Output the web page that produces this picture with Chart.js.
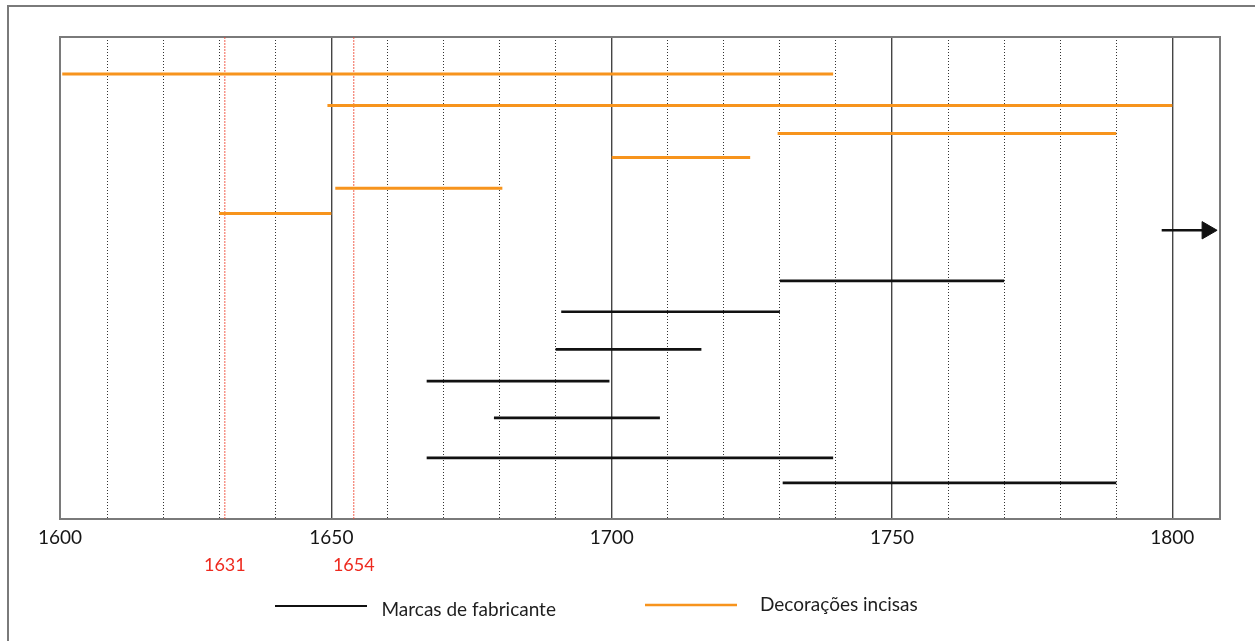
<!DOCTYPE html>
<html>
<head>
<meta charset="utf-8">
<script src="https://cdn.jsdelivr.net/npm/chart.js@4.4.1/dist/chart.umd.min.js"></script>
<style>
  html, body { margin: 0; padding: 0; background: #fff; overflow: hidden; }
  #wrap { position: relative; width: 1255px; height: 641px; overflow: hidden; }
  #frame { position: absolute; left: 7px; top: 5px; width: 1300px; height: 700px;
           border-top: 2px solid #7a7a7a; border-left: 2px solid #7a7a7a; pointer-events: none; }
  canvas { position: absolute; left: 0; top: 0; }
</style>
</head>
<body>
<div id="wrap">
  <canvas id="c" width="1255" height="641"></canvas>
  <div id="frame"></div>
</div>
<script>
// ---------- data (years) ----------
const decoLabel = 'Decorações incisas';
const decoStart = [1602, 1649.3, 1729.6, 1700, 1650.7, 1630];
const decoEnd   = [1739.5, 1800, 1790, 1724.7, 1680.5, 1650];
const decoRow   = [7.7, 14.2, 20.0, 25.0, 31.4, 36.6];

const marcLabel = 'Marcas de fabricante';
const marcStart = [1730, 1691, 1690, 1667, 1679, 1667, 1730.5];
const marcEnd   = [1770, 1730, 1716, 1699.6, 1708.6, 1739.5, 1790];
const marcRow   = [50.6, 57.0, 64.8, 71.4, 79.0, 87.3, 92.5];

const arrowYears = [1798.1, 1806.2];
const arrowRow = 40.1;

const markYears = [1631, 1654];            // red reference years

const xMin = 1601.6, xMax = 1808.5;        // axis extent as drawn
const gridYears = [1610,1620,1630,1640,1650,1660,1670,1680,1690,1700,1710,1720,1730,1740,1750,1760,1770,1780,1790,1800];
const firstLabel = '1600';

// ---------- colours ----------
const ORANGE = '#f7941d';
const BLACK = '#111111';
const RED_LINE = 'rgba(238,70,50,0.85)';
const RED_TEXT = '#ee2a1f';
const FONT = 'Lato, "Open Sans", sans-serif';

// ---------- datasets ----------
function segment(label, s, e, r, color, width) {
  return {
    type: 'line', label, data: [{x: s, y: r}, {x: e, y: r}],
    borderColor: color, backgroundColor: color, borderWidth: width,
    pointRadius: 0, pointHoverRadius: 0, fill: false, borderCapStyle: 'butt', order: 1
  };
}
const datasets = [];
markYears.forEach(y => datasets.push({
  type: 'line', label: String(y), data: [{x: y, y: 0}, {x: y, y: 100}],
  borderColor: RED_LINE, borderWidth: 1, borderDash: [2, 1], pointRadius: 0, order: 10
}));
decoStart.forEach((s, i) => datasets.push(segment(decoLabel, s, decoEnd[i], decoRow[i], ORANGE, 3)));
marcStart.forEach((s, i) => datasets.push(segment(marcLabel, s, marcEnd[i], marcRow[i], BLACK, 2.7)));
datasets.push({
  type: 'line', label: 'arrow',
  data: arrowYears.map(v => ({x: v, y: arrowRow})),
  borderColor: BLACK, backgroundColor: BLACK, borderWidth: 2.5,
  pointRadius: [0, 10], pointStyle: 'triangle', rotation: 90,
  pointBackgroundColor: BLACK, pointBorderColor: BLACK, pointBorderWidth: 1, order: 1
});

// ---------- plugins ----------
const framePlugin = {
  id: 'frame',
  beforeDatasetsDraw(chart) {
    const {ctx, chartArea: a} = chart;
    ctx.save();
    ctx.strokeStyle = '#7a7a7a';
    ctx.lineWidth = 2;
    ctx.strokeRect(a.left, a.top, a.right - a.left, a.bottom - a.top);
    ctx.restore();
  }
};

const redLabels = {
  id: 'redLabels',
  afterDraw(chart) {
    const {ctx} = chart;
    const xs = chart.scales.x;
    ctx.save();
    ctx.fillStyle = RED_TEXT;
    ctx.font = '18px ' + FONT;
    ctx.textAlign = 'center';
    ctx.textBaseline = 'middle';
    markYears.forEach(y => ctx.fillText(String(y), xs.getPixelForValue(y), 565));
    ctx.restore();
  }
};

const legendPlugin = {
  id: 'customLegend',
  afterDraw(chart) {
    const {ctx} = chart;
    const items = [
      {label: marcLabel, color: BLACK, x0: 275, x1: 367, ly: 606, tx: 381.5, ty: 616, w: 2.2},
      {label: decoLabel, color: ORANGE, x0: 645, x1: 737, ly: 605, tx: 760, ty: 611, w: 2.5}
    ];
    ctx.save();
    items.forEach(it => {
      ctx.strokeStyle = it.color;
      ctx.lineWidth = it.w;
      ctx.beginPath();
      ctx.moveTo(it.x0, it.ly);
      ctx.lineTo(it.x1, it.ly);
      ctx.stroke();
      ctx.fillStyle = '#1e1e1e';
      ctx.font = '19px ' + FONT;
      ctx.textAlign = 'left';
      ctx.textBaseline = 'alphabetic';
      ctx.fillText(it.label, it.tx, it.ty);
    });
    ctx.restore();
  }
};

// ---------- chart ----------
new Chart(document.getElementById('c'), {
  type: 'line',
  data: { datasets },
  options: {
    responsive: false,
    animation: false,
    events: [],
    layout: { padding: { left: 60, right: 35, top: 37, bottom: 0 } },
    plugins: { legend: { display: false }, tooltip: { enabled: false } },
    scales: {
      x: {
        type: 'linear', position: 'bottom', min: xMin, max: xMax,
        afterBuildTicks(scale) {
          scale.ticks = [xMin, ...gridYears, xMax].map(v => ({value: v}));
        },
        afterFit(scale) { scale.height = 122; },
        ticks: {
          autoSkip: false, maxRotation: 0, padding: 7,
          color: '#151515', font: { family: FONT, size: 19 },
          callback(v) {
            if (v === xMin) return firstLabel;
            if (v === xMax) return '';
            return v % 50 === 0 ? String(v) : '';
          }
        },
        grid: {
          drawTicks: false,
          color(ctx) {
            const v = ctx.tick ? ctx.tick.value : null;
            if (v === xMin || v === xMax) return 'rgba(0,0,0,0)';
            return v % 50 === 0 ? '#444' : '#333';
          },
          lineWidth(ctx) {
            const v = ctx.tick ? ctx.tick.value : null;
            return v % 50 === 0 ? 1.4 : 1;
          }
        },
        border: {
          display: false,
          dash(ctx) {
            const v = ctx.tick ? ctx.tick.value : 0;
            return v % 50 === 0 ? [] : [1, 2];
          }
        }
      },
      y: { type: 'linear', display: false, min: 0, max: 100, reverse: true }
    }
  },
  plugins: [framePlugin, redLabels, legendPlugin]
});
</script>
</body>
</html>
